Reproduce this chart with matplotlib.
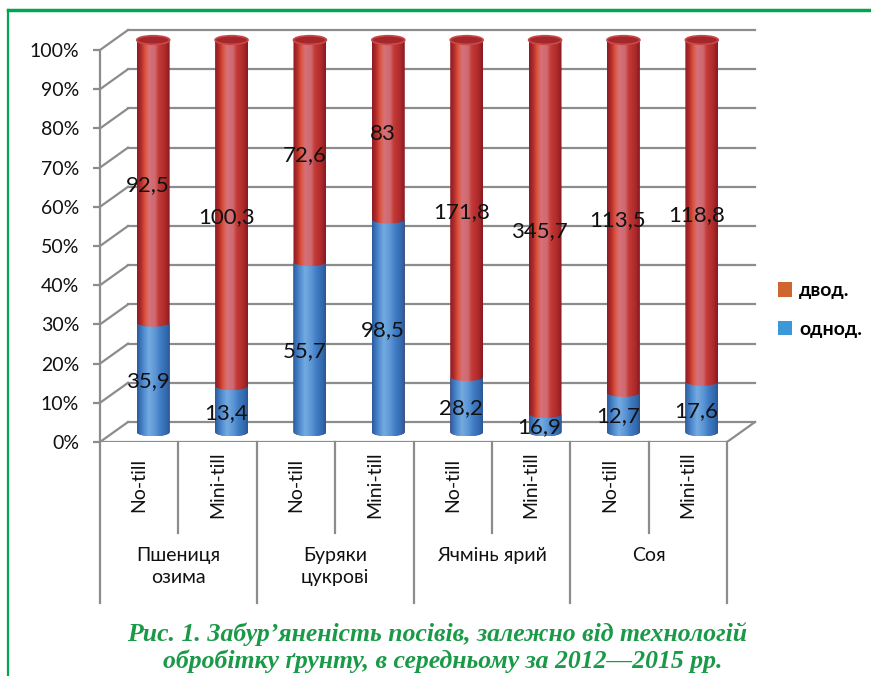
import numpy as np
import matplotlib.pyplot as plt
from matplotlib.patches import Polygon, Ellipse, Patch
from matplotlib.colors import LinearSegmentedColormap
from matplotlib.lines import Line2D

# =========================
# Data
# =========================
tillage = ["No-till", "Mini-till"] * 4
crops = ["Пшениця\nозима", "Буряки\nцукрові", "Ячмінь ярий", "Соя"]
dicot = [92.5, 100.3, 72.6, 83, 171.8, 345.7, 113.5, 118.8]     # двод.
monocot = [35.9, 13.4, 55.7, 98.5, 28.2, 16.9, 12.7, 17.6]      # однод.
pct_ticks = list(range(0, 101, 10))

dicot = np.array(dicot)
monocot = np.array(monocot)
share_mono = monocot / (monocot + dicot) * 100

# =========================
# Style
# =========================
plt.rcParams['font.family'] = ['Lato', 'Noto Sans', 'DejaVu Sans']
grid_c = '#8c8c8c'
txt_c = '#111111'
green = '#1a9a48'

red_cmap = LinearSegmentedColormap.from_list('r', [
    (0.0, '#8c1c22'), (0.12, '#b02a2d'), (0.24, '#dc5238'), (0.36, '#d6707a'),
    (0.55, '#cf6a70'), (0.66, '#c43a36'), (0.86, '#ad2a2c'), (1.0, '#861a20')])
blue_cmap = LinearSegmentedColormap.from_list('b', [
    (0.0, '#2a5a9c'), (0.18, '#4a86cc'), (0.36, '#74aae0'), (0.55, '#5e97d6'),
    (0.72, '#3f7cc4'), (0.9, '#3468ae'), (1.0, '#28568f')])

# pseudo-3D geometry (data units)
depth_x, depth_y = 0.357, 5.1
bar_dx, bar_dy = depth_x / 2, depth_y / 2
w = 0.21    # half width of cylinder
ry = 1.1    # vertical radius of the elliptic ends

fig = plt.figure(figsize=(8.71, 6.76), dpi=100)
ax = fig.add_axes([100 / 871, 234 / 676, 666.2 / 871, 431.2 / 676])
ax.set_xlim(-0.5, 8.0)
ax.set_ylim(0, 110)


def cylinder_piece(xc, y0, y1, cmap, z):
    t = np.linspace(-1, 1, 120)
    xs = xc + w * t
    sag = ry * np.sqrt(1 - t ** 2)
    verts = np.concatenate([np.column_stack([xs, y0 - sag]),
                            np.column_stack([xs[::-1], (y1 - sag)[::-1]])])
    poly = Polygon(verts, closed=True, facecolor='none', edgecolor='none')
    ax.add_patch(poly)
    grad = np.linspace(0, 1, 256)[None, :]
    im = ax.imshow(grad, cmap=cmap, extent=(xc - w, xc + w, y0 - ry, y1 + ry),
                   aspect='auto', zorder=z, interpolation='bilinear')
    im.set_clip_path(poly)


# =========================
# Walls and floor
# =========================
for p in pct_ticks:
    ax.plot([-0.5 + depth_x, 7.5 + depth_x], [p + depth_y, p + depth_y],
            color=grid_c, lw=1.6, zorder=1)
    ax.plot([-0.5, -0.5 + depth_x], [p, p + depth_y], color=grid_c, lw=1.6, zorder=1)
ax.plot([-0.5, 7.5], [0, 0], color=grid_c, lw=1.6, zorder=1)
ax.plot([7.5, 7.5 + depth_x], [0, depth_y], color=grid_c, lw=1.6, zorder=1)

# =========================
# Cylinders
# =========================
for i in range(len(tillage)):
    xc = i + bar_dx
    b = share_mono[i]
    cylinder_piece(xc, bar_dy, bar_dy + 100, red_cmap, 3)
    cylinder_piece(xc, bar_dy, bar_dy + b, blue_cmap, 4)
    ax.add_patch(Ellipse((xc, bar_dy + 100), 2 * w, 2 * ry, facecolor='#a5262b',
                         edgecolor='#c84a48', lw=1.2, zorder=5))
    # data labels
    ax.text(xc - 0.07, b / 2 + 1.5, f"{monocot[i]:g}".replace('.', ','), ha='center',
            va='center', fontsize=16, color=txt_c, zorder=6)
    ax.text(xc - 0.07, (b + 100) / 2 + 1.5, f"{dicot[i]:g}".replace('.', ','), ha='center',
            va='center', fontsize=16, color=txt_c, zorder=6)

# =========================
# Axes
# =========================
ax.set_yticks(pct_ticks)
ax.set_yticklabels([f"{p}%" for p in pct_ticks], fontsize=14, color=txt_c)
ax.set_xticks([])
ax.tick_params(axis='y', length=5, width=1.6, color=grid_c, pad=10)
for s in ['top', 'right', 'bottom']:
    ax.spines[s].set_visible(False)
ax.spines['left'].set_bounds(0, 100)
ax.spines['left'].set_color(grid_c)
ax.spines['left'].set_linewidth(1.6)
ax.patch.set_visible(False)

# category axis (two levels)
xt = ax.get_xaxis_transform()
for i, lab in enumerate(tillage):
    ax.text(i, -0.1, lab, rotation=90, ha='center', va='center', fontsize=14,
            color=txt_c, transform=xt)
for k in range(len(tillage) + 1):
    low = -0.373 if k % 2 == 0 else -0.211
    ax.plot([k - 0.5, k - 0.5], [0, low], color=grid_c, lw=1.6, transform=xt,
            clip_on=False)
for g, lab in enumerate(crops):
    ax.text(2 * g + 0.5, -0.243, lab, ha='center', va='top', fontsize=14,
            color=txt_c, linespacing=1.4, transform=xt)

# legend
handles = [Patch(facecolor='#d0662f', edgecolor='none', label='двод.'),
           Patch(facecolor='#3d98d8', edgecolor='none', label='однод.')]
fig.legend(handles=handles, loc='center left', bbox_to_anchor=(760 / 871, 1 - 310 / 676),
           frameon=False, prop=dict(size=14, weight='bold'), handlelength=0.75,
           handleheight=0.75, handletextpad=0.35, labelspacing=1.1)

# green frame
fig.add_artist(Line2D([8 / 871, 1], [1 - 10 / 676, 1 - 10 / 676], color='#00a650', lw=2.5))
fig.add_artist(Line2D([8 / 871, 8 / 871], [0, 1 - 10 / 676], color='#00a650', lw=1.6))

# caption
cap_font = dict(family='Liberation Serif', style='italic', weight='bold', color=green,
                fontsize=18.5, ha='center', va='center')
fig.text(437 / 871, 1 - 634 / 676, "Рис. 1. Забур’яненість посівів, залежно від технологій",
         **cap_font)
fig.text(443 / 871, 1 - 661 / 676, "обробітку ґрунту, в середньому за 2012—2015 рр.",
         **cap_font)

fig.savefig('out.png', dpi=100)
